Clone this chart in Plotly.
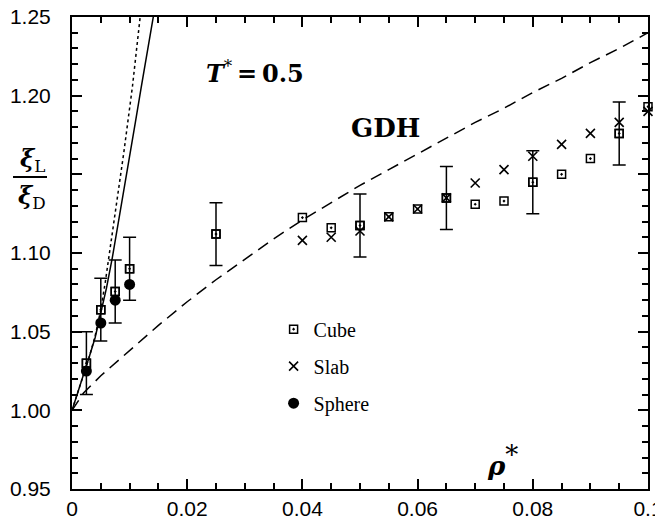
import plotly.graph_objects as go

# ---- data ----
cube_x = [0.0025, 0.005, 0.0075, 0.01, 0.025, 0.04, 0.045, 0.05, 0.055, 0.06,
          0.065, 0.07, 0.075, 0.08, 0.085, 0.09, 0.095, 0.1]
cube_y = [1.030, 1.064, 1.0755, 1.090, 1.112, 1.1225, 1.116, 1.1175, 1.123, 1.128,
          1.135, 1.131, 1.133, 1.145, 1.150, 1.160, 1.176, 1.193]

cube_err_x = [0.0025, 0.005, 0.0075, 0.01, 0.025, 0.05, 0.065, 0.08, 0.095]
cube_err_y = [1.030, 1.064, 1.0755, 1.090, 1.112, 1.1175, 1.135, 1.145, 1.176]
cube_err = [0.020, 0.020, 0.020, 0.020, 0.020, 0.020, 0.020, 0.020, 0.020]

slab_x = [0.04, 0.045, 0.05, 0.055, 0.06, 0.065, 0.07, 0.075, 0.08, 0.085, 0.09, 0.095, 0.1]
slab_y = [1.108, 1.110, 1.114, 1.123, 1.128, 1.135, 1.1445, 1.153, 1.1615, 1.169, 1.176, 1.183, 1.190]

sphere_x = [0.0025, 0.005, 0.0075, 0.01]
sphere_y = [1.025, 1.0555, 1.070, 1.080]

gdh_x = [0.0, 0.002, 0.005, 0.01, 0.015, 0.02, 0.025, 0.03, 0.035, 0.04, 0.045,
         0.05, 0.055, 0.06, 0.065, 0.07, 0.075, 0.08, 0.085, 0.09, 0.095, 0.1]
gdh_y = [1.000, 1.011, 1.022, 1.038, 1.054, 1.069, 1.083, 1.096, 1.109, 1.121, 1.132,
         1.143, 1.153, 1.163, 1.173, 1.183, 1.192, 1.202, 1.211, 1.221, 1.230, 1.240]

solid_x = [0.0, 0.001, 0.002, 0.003, 0.004, 0.005, 0.006, 0.007, 0.008, 0.009,
           0.010, 0.011, 0.012, 0.013, 0.0141, 0.015]
solid_y = [1.000, 1.011, 1.022, 1.034, 1.046, 1.061, 1.078, 1.097, 1.118, 1.140,
           1.161, 1.183, 1.205, 1.227, 1.250, 1.269]

dotted_x = [0.0, 0.001, 0.002, 0.003, 0.004, 0.005, 0.0058, 0.0073, 0.009, 0.0105, 0.0118, 0.0125]
dotted_y = [1.000, 1.011, 1.022, 1.034, 1.047, 1.064, 1.082, 1.120, 1.164, 1.206, 1.250, 1.272]

x_tickvals = [0, 0.02, 0.04, 0.06, 0.08, 0.1]
x_ticktext = ["0", "0.02", "0.04", "0.06", "0.08", "0.1"]
y_tickvals = [0.95, 1.00, 1.05, 1.10, 1.15, 1.20, 1.25]
y_ticktext = ["0.95", "1.00", "1.05", "1.10", "", "1.20", "1.25"]

BLACK = "black"
fig = go.Figure()

# theory curves
fig.add_trace(go.Scatter(x=gdh_x, y=gdh_y, mode="lines", showlegend=False,
                         line=dict(color=BLACK, width=1.5, dash="12px,7px")))
fig.add_trace(go.Scatter(x=solid_x, y=solid_y, mode="lines", showlegend=False,
                         line=dict(color=BLACK, width=1.5)))
fig.add_trace(go.Scatter(x=dotted_x, y=dotted_y, mode="lines", showlegend=False,
                         line=dict(color=BLACK, width=1.5, dash="dot")))

# error bars for cube
fig.add_trace(go.Scatter(x=cube_err_x, y=cube_err_y, mode="markers", showlegend=False,
                         cliponaxis=False,
                         marker=dict(symbol="square-open", size=8, color=BLACK,
                                     line=dict(width=1.5, color=BLACK)),
                         error_y=dict(type="data", array=cube_err, visible=True,
                                      color=BLACK, thickness=1.5, width=6.5)))

fig.add_trace(go.Scatter(x=cube_x, y=cube_y, mode="markers", name="Cube",
                         legendgroup="a", cliponaxis=False,
                         marker=dict(symbol="square-open-dot", size=8, color=BLACK,
                                     line=dict(width=1.5, color=BLACK))))
fig.add_trace(go.Scatter(x=slab_x, y=slab_y, mode="markers", name="Slab",
                         legendgroup="b", cliponaxis=False,
                         marker=dict(symbol="x-thin-open", size=9, color=BLACK,
                                     line=dict(width=1.6, color=BLACK))))
fig.add_trace(go.Scatter(x=sphere_x, y=sphere_y, mode="markers", name="Sphere",
                         legendgroup="c", cliponaxis=False,
                         marker=dict(symbol="circle", size=11, color=BLACK)))

axis_common = dict(showline=True, linecolor=BLACK, linewidth=2, mirror="ticks",
                   ticks="inside", ticklen=10, tickwidth=1.5, tickcolor=BLACK,
                   showgrid=False, zeroline=False, automargin=False,
                   ticklabeloverflow="allow",
                   tickfont=dict(family="Liberation Sans", size=21, color=BLACK))

fig.update_xaxes(range=[0, 0.1], tickvals=x_tickvals, ticktext=x_ticktext,
                 minor=dict(dtick=0.005, ticks="inside", ticklen=6, tickwidth=1.5,
                            tickcolor=BLACK, showgrid=False),
                 ticklabelstandoff=0, **axis_common)
fig.update_yaxes(range=[0.95, 1.25], tickvals=y_tickvals, ticktext=y_ticktext,
                 minor=dict(dtick=0.01, ticks="inside", ticklen=6, tickwidth=1.5,
                            tickcolor=BLACK, showgrid=False),
                 ticklabelstandoff=15, **axis_common)

annotations = [
    dict(x=0.0229, y=1.215, xref="x", yref="y", xanchor="left", yanchor="middle",
         showarrow=False,
         text="<b><i>T</i></b><sup>*</sup><b>\u2009=\u20090.5</b>",
         font=dict(family="DejaVu Serif", size=24, color=BLACK)),
    dict(x=0.0481, y=1.1795, xref="x", yref="y", xanchor="left", yanchor="middle",
         showarrow=False, text="<b>GDH</b>",
         font=dict(family="DejaVu Serif", size=26, color=BLACK)),
    dict(x=0.0748, y=0.968, xref="x", yref="y", xanchor="center", yanchor="middle",
         showarrow=False, text="<b><i>ρ</i></b><sup><span style='font-size:26px'>*</span></sup>",
         font=dict(family="DejaVu Serif", size=26, color=BLACK)),
    dict(x=-0.0694, y=0.697, xref="paper", yref="paper", xanchor="center", yanchor="middle",
         showarrow=False, text="<b><i>ξ</i></b><sub>L</sub>",
         font=dict(family="DejaVu Serif", size=24, color=BLACK)),
    dict(x=-0.0694, y=0.619, xref="paper", yref="paper", xanchor="center", yanchor="middle",
         showarrow=False, text="<b><i>ξ</i></b><sub>D</sub>",
         font=dict(family="DejaVu Serif", size=24, color=BLACK)),
]

# the page body adds an 8 px offset, so the figure is 8 px smaller and margins compensate
fig.update_layout(
    width=655, height=511,
    margin=dict(l=64, r=15, t=9, b=30, autoexpand=False),
    paper_bgcolor="white", plot_bgcolor="white",
    annotations=annotations,
    shapes=[dict(type="line", xref="paper", yref="paper", x0=-0.1024, x1=-0.0434,
                 y0=0.661, y1=0.661, line=dict(color=BLACK, width=2))],
    showlegend=True,
    legend=dict(x=0.350, y=0.38, xanchor="left", yanchor="top",
                bgcolor="rgba(0,0,0,0)", borderwidth=0, tracegroupgap=8,
                font=dict(family="Liberation Serif", size=20, color=BLACK)),
)

fig.write_html("out.html")
